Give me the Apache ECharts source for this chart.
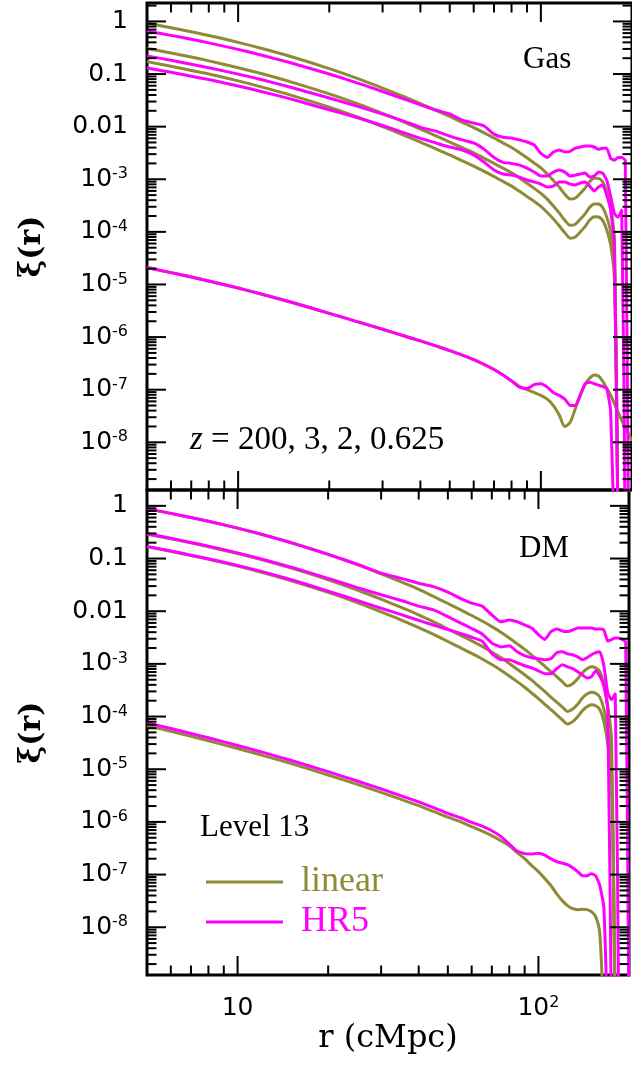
<!DOCTYPE html>
<html>
<head>
<meta charset="utf-8">
<script src="https://cdn.jsdelivr.net/npm/echarts@6/dist/echarts.min.js"></script>
<style>
  html, body { margin: 0; padding: 0; background: #fff; }
  #chart { width: 632px; height: 1077px; }
</style>
</head>
<body>
<div id="chart"></div>
<script>
// Two-point correlation function xi(r) of gas (top) and dark matter (bottom),
// linear theory vs. the HR5 run, at z = 200, 3, 2 and 0.625.

// separation r in comoving Mpc
const R = [5, 6, 7, 8, 10, 12, 15, 20, 25, 30, 35, 40, 45, 50, 55, 60, 65, 70, 75, 80, 85, 90, 95,
  100, 105, 110, 115, 120, 125, 130, 135, 140, 145, 150, 155, 160, 165, 170, 175, 180, 185, 190, 195, 200];

// xi <= 0 cannot be shown on a log axis: such points drop below the frame
const NEG = 1e-10;

// ---- Gas, linear theory ----
const GAS_LIN_Z0625 = [0.93, 0.76, 0.635, 0.54, 0.40, 0.305, 0.213, 0.127, 0.081, 0.054, 0.038, 0.0274, 0.0204, 0.0156,
  0.0121, 9.6e-3, 7.6e-3, 6.1e-3, 4.9e-3, 4.0e-3, 3.2e-3, 2.56e-3, 2.04e-3, 1.65e-3, 1.26e-3, 9.5e-4, 7.1e-4, 5.2e-4,
  4.2e-4, 4.4e-4, 5.4e-4, 6.8e-4, 9.1e-4, 1.05e-3, 1.04e-3, 8.9e-4, 5.9e-4, 3.0e-4, 7e-5, NEG, null, null, null, null];
const GAS_LIN_Z2 = [0.307, 0.251, 0.210, 0.178, 0.132, 0.101, 0.0703, 0.0419, 0.0267, 0.0178, 0.0125, 9.0e-3, 6.7e-3, 5.1e-3,
  4.0e-3, 3.17e-3, 2.5e-3, 2.0e-3, 1.62e-3, 1.32e-3, 1.06e-3, 8.4e-4, 6.7e-4, 5.4e-4, 4.2e-4, 3.1e-4, 2.3e-4, 1.66e-4,
  1.33e-4, 1.4e-4, 1.74e-4, 2.2e-4, 2.95e-4, 3.4e-4, 3.4e-4, 2.9e-4, 1.93e-4, 1.0e-4, 2.4e-5, NEG, null, null, null, null];
const GAS_LIN_Z3 = [0.172, 0.141, 0.117, 0.100, 0.074, 0.0564, 0.0394, 0.0235, 0.0150, 0.0100, 7.0e-3, 5.1e-3, 3.8e-3, 2.9e-3,
  2.24e-3, 1.78e-3, 1.41e-3, 1.13e-3, 9.1e-4, 7.4e-4, 5.9e-4, 4.7e-4, 3.8e-4, 3.05e-4, 2.33e-4, 1.76e-4, 1.31e-4, 9.6e-5,
  7.6e-5, 8.0e-5, 1.0e-4, 1.26e-4, 1.68e-4, 1.94e-4, 1.92e-4, 1.65e-4, 1.09e-4, 5.6e-5, 1.3e-5, NEG, null, null, null, null];
const GAS_LIN_Z200 = [2.1e-5, 1.68e-5, 1.39e-5, 1.16e-5, 8.55e-6, 6.53e-6, 4.59e-6, 2.83e-6, 1.93e-6, 1.41e-6, 1.07e-6, 8.45e-7,
  6.8e-7, 5.53e-7, 4.54e-7, 3.72e-7, 3.01e-7, 2.42e-7, 1.90e-7, 1.47e-7, 1.15e-7, 1.0e-7, 8.85e-8, 7.8e-8, 6.6e-8, 5.0e-8,
  3.3e-8, 2.0e-8, 2.4e-8, 4.4e-8, 7.9e-8, 1.26e-7, 1.66e-7, 1.9e-7, 1.82e-7, 1.45e-7, 1.07e-7, 7.9e-8, 5.4e-8, 3.7e-8,
  2.6e-8, 1.86e-8, 1.43e-8, 1.05e-8];

// ---- Gas, HR5 ----
const GAS_HR5_Z0625 = [0.66, 0.543, 0.457, 0.391, 0.294, 0.227, 0.162, 0.100, 0.0664, 0.0466, 0.0342, 0.0260, 0.0207, 0.0174,
  0.0133, 0.0117, 0.0103, 7.2e-3, 6.3e-3, 6.1e-3, 5.6e-3, 5.1e-3, 4.5e-3, 3.1e-3, 2.6e-3, 3.3e-3, 3.6e-3, 3.3e-3, 3.4e-3,
  3.9e-3, 4.1e-3, 4.3e-3, 4.3e-3, 4.1e-3, 3.7e-3, 3.9e-3, 3.9e-3, 2.5e-3, 2.3e-3, 2.6e-3, 2.6e-3, 2.3e-3, NEG, null];
const GAS_HR5_Z2 = [0.221, 0.183, 0.154, 0.132, 0.0997, 0.0778, 0.0555, 0.0350, 0.0240, 0.0173, 0.0129, 9.7e-3, 8.2e-3,
  6.6e-3, 5.6e-3, 4.9e-3, 3.7e-3, 2.6e-3, 2.1e-3, 2.0e-3, 1.86e-3, 1.63e-3, 1.37e-3, 1.15e-3, 1.15e-3, 1.37e-3, 1.5e-3,
  1.37e-3, 1.15e-3, 1.2e-3, 1.26e-3, 1.31e-3, 1.1e-3, 1.15e-3, 1.37e-3, 1.31e-3, 9.7e-4, 4.8e-4, 2.2e-4, 1.9e-4, 2.6e-4,
  NEG, null, null];
const GAS_HR5_Z3 = [0.130, 0.108, 0.0907, 0.0785, 0.0592, 0.0462, 0.0333, 0.0209, 0.0146, 0.0105, 7.8e-3, 6.0e-3, 4.9e-3,
  4.1e-3, 3.6e-3, 2.9e-3, 2.1e-3, 1.5e-3, 1.26e-3, 1.2e-3, 1.1e-3, 9.7e-4, 8.9e-4, 8.1e-4, 7.1e-4, 7.4e-4, 8.9e-4, 8.9e-4,
  8.1e-4, 7.8e-4, 8.5e-4, 8.9e-4, 7.4e-4, 6.0e-4, 7.1e-4, 7.8e-4, 5.0e-4, 2.6e-4, 5.6e-5, NEG, null, null, null, null];
const GAS_HR5_Z200 = [2.1e-5, 1.68e-5, 1.39e-5, 1.16e-5, 8.55e-6, 6.53e-6, 4.59e-6, 2.83e-6, 1.93e-6, 1.41e-6, 1.07e-6,
  8.45e-7, 6.8e-7, 5.53e-7, 4.54e-7, 3.72e-7, 3.01e-7, 2.42e-7, 1.90e-7, 1.47e-7, 1.12e-7, 1.05e-7, 1.25e-7, 1.3e-7,
  1.12e-7, 8.8e-8, 7.8e-8, 6.6e-8, 5.0e-8, 5.0e-8, 8.0e-8, 1.3e-7, 1.38e-7, 1.3e-7, 1.22e-7, 1.15e-7, 1.05e-7, 4.0e-8,
  NEG, null, null, null, null, null];

// ---- Dark matter, linear theory ----
const DM_LIN_Z0625 = [0.88, 0.72, 0.60, 0.51, 0.378, 0.289, 0.201, 0.120, 0.0766, 0.0511, 0.0359, 0.0259, 0.0188, 0.0140,
  0.0107, 8.3e-3, 6.5e-3, 5.1e-3, 4.0e-3, 3.1e-3, 2.4e-3, 1.88e-3, 1.47e-3, 1.15e-3, 9.0e-4, 7.1e-4, 5.7e-4, 4.6e-4, 3.8e-4,
  4.2e-4, 5.2e-4, 6.8e-4, 8.1e-4, 8.8e-4, 8.4e-4, 7.1e-4, 4.2e-4, 1.6e-4, 3.5e-5, NEG, null, null, null, null];
const DM_LIN_Z2 = [0.290, 0.238, 0.198, 0.168, 0.125, 0.0954, 0.0663, 0.0396, 0.0253, 0.0169, 0.0118, 8.5e-3, 6.2e-3, 4.6e-3,
  3.5e-3, 2.74e-3, 2.15e-3, 1.68e-3, 1.32e-3, 1.02e-3, 7.9e-4, 6.2e-4, 4.9e-4, 3.8e-4, 3.0e-4, 2.34e-4, 1.88e-4, 1.52e-4,
  1.25e-4, 1.39e-4, 1.72e-4, 2.24e-4, 2.67e-4, 2.9e-4, 2.77e-4, 2.34e-4, 1.39e-4, 5.3e-5, 1.2e-5, NEG, null, null, null, null];
const DM_LIN_Z3 = [0.167, 0.137, 0.114, 0.097, 0.0718, 0.0549, 0.0382, 0.0228, 0.0146, 9.7e-3, 6.8e-3, 4.9e-3, 3.6e-3, 2.66e-3,
  2.03e-3, 1.58e-3, 1.24e-3, 9.7e-4, 7.6e-4, 5.9e-4, 4.6e-4, 3.6e-4, 2.8e-4, 2.19e-4, 1.71e-4, 1.35e-4, 1.08e-4, 8.7e-5,
  7.2e-5, 8.0e-5, 9.9e-5, 1.29e-4, 1.54e-4, 1.67e-4, 1.6e-4, 1.35e-4, 8.0e-5, 3.0e-5, 6.7e-6, NEG, null, null, null, null];
const DM_LIN_Z200 = [6.7e-5, 5.23e-5, 4.21e-5, 3.47e-5, 2.48e-5, 1.86e-5, 1.29e-5, 7.78e-6, 5.15e-6, 3.63e-6, 2.67e-6, 2.03e-6,
  1.56e-6, 1.23e-6, 1.01e-6, 8.1e-7, 6.7e-7, 5.5e-7, 4.4e-7, 3.5e-7, 2.6e-7, 2.0e-7, 1.48e-7, 1.14e-7, 8.4e-8, 6.2e-8, 4.3e-8,
  3.2e-8, 2.57e-8, 2.25e-8, 2.16e-8, 2.2e-8, 2.16e-8, 1.98e-8, 1.59e-8, 7.6e-9, NEG, null, null, null, null, null, null, null];

// ---- Dark matter, HR5 ----
const DM_HR5_Z0625 = [0.88, 0.72, 0.60, 0.51, 0.378, 0.289, 0.201, 0.120, 0.078, 0.053, 0.042, 0.034, 0.029, 0.023, 0.0175,
  0.0142, 0.0125, 8.5e-3, 6.3e-3, 6.8e-3, 6.3e-3, 5.5e-3, 4.8e-3, 3.6e-3, 2.9e-3, 4.1e-3, 4.6e-3, 4.2e-3, 4.1e-3, 4.4e-3,
  4.8e-3, 4.8e-3, 4.8e-3, 4.8e-3, 4.6e-3, 4.6e-3, 4.4e-3, 2.7e-3, 2.9e-3, 3.1e-3, 3.1e-3, 2.9e-3, 2.6e-3, NEG];
const DM_HR5_Z2 = [0.295, 0.242, 0.202, 0.172, 0.128, 0.098, 0.069, 0.042, 0.028, 0.0205, 0.016, 0.0125, 0.0105, 7.9e-3,
  6.0e-3, 4.7e-3, 3.7e-3, 2.5e-3, 2.1e-3, 2.2e-3, 1.7e-3, 1.43e-3, 1.31e-3, 1.25e-3, 1.2e-3, 1.25e-3, 1.63e-3, 1.7e-3,
  1.56e-3, 1.49e-3, 1.36e-3, 1.2e-3, 1.31e-3, 1.49e-3, 1.63e-3, 1.7e-3, 9.2e-4, 2.8e-4, 2.1e-4, 2.7e-4, NEG, null, null, null];
const DM_HR5_Z3 = [0.170, 0.139, 0.116, 0.099, 0.074, 0.057, 0.040, 0.0240, 0.0160, 0.0114, 8.6e-3, 6.7e-3, 5.4e-3, 4.5e-3,
  3.8e-3, 3.2e-3, 2.7e-3, 1.56e-3, 1.2e-3, 1.2e-3, 1.05e-3, 9.2e-4, 8.4e-4, 7.4e-4, 6.5e-4, 6.5e-4, 8.1e-4, 9.6e-4, 8.8e-4,
  8.1e-4, 7.1e-4, 6.2e-4, 5.4e-4, 5.7e-4, 7.4e-4, 5.9e-4, 3.8e-4, 1.35e-4, NEG, null, null, null, null, null];
const DM_HR5_Z200 = [7.6e-5, 5.93e-5, 4.78e-5, 3.95e-5, 2.83e-5, 2.13e-5, 1.48e-5, 8.98e-6, 5.97e-6, 4.23e-6, 3.13e-6, 2.4e-6,
  1.85e-6, 1.45e-6, 1.2e-6, 9.8e-7, 8.3e-7, 6.8e-7, 5.3e-7, 3.8e-7, 2.8e-7, 2.5e-7, 2.45e-7, 2.55e-7, 2.35e-7, 2.0e-7,
  1.76e-7, 1.65e-7, 1.54e-7, 1.35e-7, 1.14e-7, 9.5e-8, 9.5e-8, 1.04e-7, 9.5e-8, 6.2e-8, 2.36e-8, NEG, null, null, null, null, null, null];

// axis tick labels
const Y_TICKS = [1, 0.1, 0.01, 1e-3, 1e-4, 1e-5, 1e-6, 1e-7, 1e-8];
const Y_TICK_TEXT = ['1', '0.1', '0.01', '10{s|-3}', '10{s|-4}', '10{s|-5}', '10{s|-6}', '10{s|-7}', '10{s|-8}'];
const X_TICKS = [10, 100];
const X_TICK_TEXT = ['10', '10{s|2}'];

const OLIVE = '#8e8a35';
const MAGENTA = '#ff00ff';
const X_MIN = 5, X_MAX = 200;
const Y_MIN = 1.24e-9, Y_MAX_TOP = 2.24, Y_MAX_BOT = 2.0;

function labelFmt(ticks, texts) {
  return function (v) {
    for (let i = 0; i < ticks.length; i++) {
      if (Math.abs(Math.log10(v) - Math.log10(ticks[i])) < 1e-6) {
        const t = texts[i];
        const k = t.indexOf('{s|');
        return k < 0 ? '{b|' + t + '}' : '{b|' + t.slice(0, k) + '}' + t.slice(k);
      }
    }
    return '';
  };
}
const LABEL_RICH = {
  b: { fontFamily: 'DejaVu Sans', fontSize: 25, color: '#000', lineHeight: 26 },
  s: { fontFamily: 'DejaVu Sans', fontSize: 16, color: '#000', lineHeight: 16, verticalAlign: 'top' }
};

// tick marks on all four sides of a panel, placed through the panel's own axes
function tickSeries(gi, yMax) {
  const items = [];
  for (let e = -9; e <= 0; e++) {
    for (let m = 1; m <= 9; m++) {
      const v = m * Math.pow(10, e);
      if (v < Y_MIN || v > yMax) continue;
      items.push([X_MIN, v, 0, m === 1 ? 1 : 0]);
      items.push([X_MAX, v, 1, m === 1 ? 1 : 0]);
    }
  }
  for (let e = 0; e <= 2; e++) {
    for (let m = 1; m <= 9; m++) {
      const v = m * Math.pow(10, e);
      if (v <= X_MIN || v >= X_MAX) continue;
      items.push([v, yMax, 2, m === 1 ? 1 : 0]);
      items.push([v, Y_MIN, 3, m === 1 ? 1 : 0]);
    }
  }
  return {
    type: 'custom', xAxisIndex: gi, yAxisIndex: gi, silent: true, clip: false, z: 5,
    data: items,
    renderItem: function (params, api) {
      const p = api.coord([api.value(0), api.value(1)]);
      const dir = api.value(2);
      const len = api.value(3) ? 19 : 9.5;
      let x2 = p[0], y2 = p[1];
      if (dir === 0) x2 += len; else if (dir === 1) x2 -= len; else if (dir === 2) y2 += len; else y2 -= len;
      return { type: 'line', shape: { x1: p[0], y1: p[1], x2: x2, y2: y2 }, style: { stroke: '#000', lineWidth: 2 } };
    }
  };
}

function curve(name, color, values, gi, smooth) {
  return {
    type: 'line', name: name, xAxisIndex: gi, yAxisIndex: gi,
    data: R.map((r, i) => [r, values[i]]),
    showSymbol: false, symbol: 'none', connectNulls: false, clip: true, smooth: smooth,
    itemStyle: { color: color },
    lineStyle: { color: color, width: 3 },
    emphasis: { disabled: true }
  };
}
const lin = (v, gi) => curve('linear', OLIVE, v, gi, 0.3);
const hr5 = (v, gi) => curve('HR5', MAGENTA, v, gi, 0.15);

const yAxisBase = (gi, yMax) => ({
  gridIndex: gi, type: 'log', logBase: 10, min: Y_MIN, max: yMax, splitNumber: 10,
  axisLine: { show: false }, axisTick: { show: false }, splitLine: { show: false },
  axisLabel: { formatter: labelFmt(Y_TICKS, Y_TICK_TEXT), rich: LABEL_RICH, margin: 19, interval: 0 },
  name: 'ξ(r)', nameLocation: 'middle', nameRotate: 90, nameGap: 100,
  nameTextStyle: { fontFamily: 'DejaVu Serif', fontWeight: 'bold', fontSize: 30, color: '#000' }
});

const chart = echarts.init(document.getElementById('chart'), null, { renderer: 'canvas' });
chart.setOption({
  animation: false,
  backgroundColor: '#fff',
  textStyle: { fontFamily: 'DejaVu Sans' },
  grid: [
    { left: 147, top: 3, width: 487, height: 487, show: true, borderColor: '#000', borderWidth: 3 },
    { left: 147, top: 490, width: 487, height: 485, show: true, borderColor: '#000', borderWidth: 3 }
  ],
  xAxis: [
    { gridIndex: 0, type: 'log', logBase: 10, min: X_MIN, max: X_MAX,
      axisLine: { show: false }, axisTick: { show: false }, axisLabel: { show: false }, splitLine: { show: false } },
    { gridIndex: 1, type: 'log', logBase: 10, min: X_MIN, max: X_MAX,
      axisLine: { show: false }, axisTick: { show: false }, splitLine: { show: false },
      axisLabel: { formatter: labelFmt(X_TICKS, X_TICK_TEXT), rich: LABEL_RICH, margin: 20, interval: 0 },
      name: 'r (cMpc)', nameLocation: 'middle', nameGap: 48,
      nameTextStyle: { fontFamily: 'DejaVu Serif', fontSize: 32, color: '#000' } }
  ],
  yAxis: [yAxisBase(0, Y_MAX_TOP), yAxisBase(1, Y_MAX_BOT)],
  legend: {
    left: 206, top: 864, padding: 0, orient: 'vertical', icon: 'rect', itemWidth: 77, itemHeight: 3, itemGap: 4,
    selectedMode: false,
    textStyle: { fontFamily: 'Liberation Serif', fontSize: 36, lineHeight: 36, padding: [0, 0, 0, 13] },
    data: [
      { name: 'linear', textStyle: { color: OLIVE } },
      { name: 'HR5', textStyle: { color: MAGENTA } }
    ]
  },
  graphic: [
    { type: 'text', x: 523, y: 60, style: { text: 'Gas', font: '31px "Liberation Serif"', fill: '#000', verticalAlign: 'middle' } },
    { type: 'text', x: 519, y: 549, style: { text: 'DM', font: '31px "Liberation Serif"', fill: '#000', verticalAlign: 'middle' } },
    { type: 'text', x: 190, y: 440, style: {
        text: '{i|z} = 200, 3, 2, 0.625', font: '33px "Liberation Serif"', fill: '#000', verticalAlign: 'middle',
        rich: { i: { font: 'italic 33px "Liberation Serif"', fill: '#000' } } } },
    { type: 'text', x: 200, y: 828, style: { text: 'Level 13', font: '31px "Liberation Serif"', fill: '#000', verticalAlign: 'middle' } }
  ],
  series: [
    lin(GAS_LIN_Z0625, 0), lin(GAS_LIN_Z2, 0), lin(GAS_LIN_Z3, 0), lin(GAS_LIN_Z200, 0),
    hr5(GAS_HR5_Z0625, 0), hr5(GAS_HR5_Z2, 0), hr5(GAS_HR5_Z3, 0), hr5(GAS_HR5_Z200, 0),
    lin(DM_LIN_Z0625, 1), lin(DM_LIN_Z2, 1), lin(DM_LIN_Z3, 1), lin(DM_LIN_Z200, 1),
    hr5(DM_HR5_Z0625, 1), hr5(DM_HR5_Z2, 1), hr5(DM_HR5_Z3, 1), hr5(DM_HR5_Z200, 1),
    tickSeries(0, Y_MAX_TOP),
    tickSeries(1, Y_MAX_BOT)
  ]
});
</script>
</body>
</html>
